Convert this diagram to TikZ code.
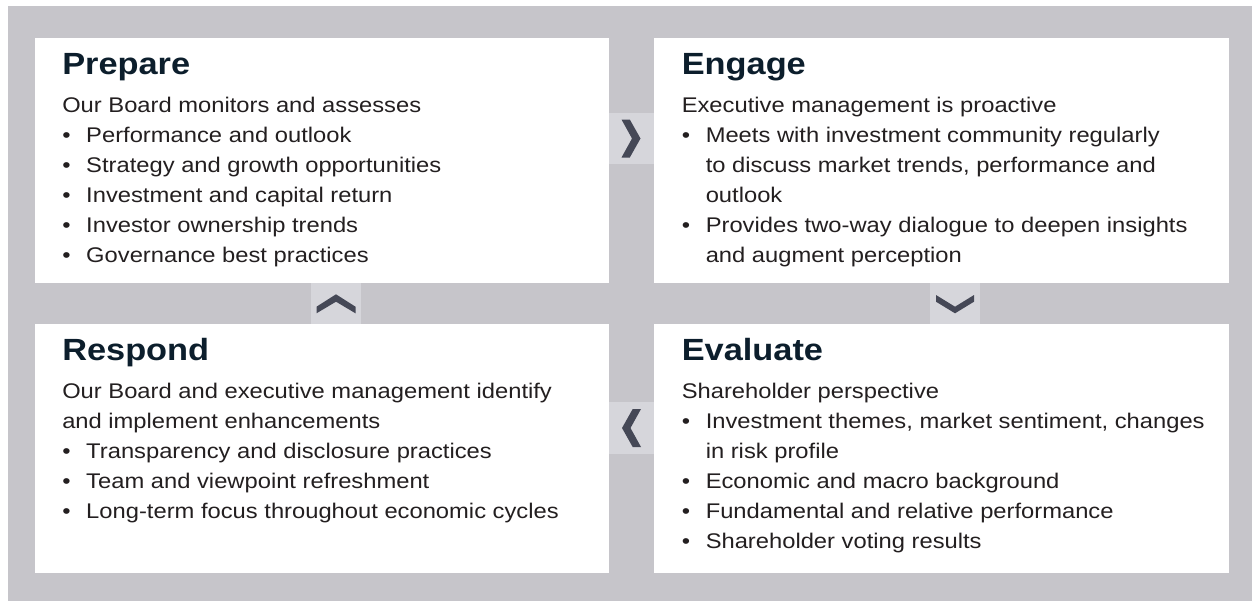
\documentclass[tikz,border=0pt]{standalone}
\usepackage{fontspec}
\setmainfont[FakeStretch=1.12]{Liberation Sans}
\definecolor{bggray}{HTML}{C6C5CA}
\definecolor{arrbox}{HTML}{D6D6DB}
\definecolor{chevcol}{HTML}{454856}
\definecolor{titlecol}{HTML}{0C1E2C}
\definecolor{bodycol}{HTML}{231F20}
\newcommand{\bi}{\makebox[18pt][l]{•}}
\newcommand{\ci}{\hspace*{18pt}}
\newcommand{\bodytext}[1]{\parbox[t]{420pt}{#1}}
\tikzset{
  panel/.style={fill=white, draw=none, inner sep=0pt},
  arrowbox/.style={fill=arrbox, draw=none, inner sep=0pt},
  chev/.style={fill=chevcol, draw=none},
  titletext/.style={anchor=base west, inner sep=0pt, text=titlecol, font=\fontsize{23}{27}\selectfont\bfseries},
  bodynode/.style={anchor=base west, inner sep=0pt, text=bodycol, font=\fontsize{15.9}{22.5}\selectfont}
}
\begin{document}
\begin{tikzpicture}[x=0.75pt,y=-0.75pt]
\useasboundingbox (0,0) rectangle (1252,601);
\fill[white] (0,0) rectangle (1252,601);
\fill[bggray] (8,6) rectangle (1252,601);
% panels
\node[panel, minimum width=430.5pt, minimum height=183.75pt] (prep) at (322,160.5) {};
\node[panel, minimum width=431.25pt, minimum height=183.75pt] (eng) at (941.5,160.5) {};
\node[panel, minimum width=430.5pt, minimum height=186.75pt] (resp) at (322,448.5) {};
\node[panel, minimum width=431.25pt, minimum height=186.75pt] (eval) at (941.5,448.5) {};
% arrow boxes
\node[arrowbox, minimum width=33.75pt, minimum height=38.25pt] (aright) at (631.5,138.5) {};
\node[arrowbox, minimum width=33.75pt, minimum height=39pt] (aleft) at (631.5,428) {};
\node[arrowbox, minimum width=37.5pt, minimum height=30.75pt] (aup) at (336,303.5) {};
\node[arrowbox, minimum width=37.5pt, minimum height=30.75pt] (adown) at (955,303.5) {};
% chevrons
\fill[chev, shift={(aright.center)}] (-10,-19) -- (-1.7,-19) -- (9,0) -- (-1.7,19) -- (-10,19) -- (0.5,0) -- cycle;
\fill[chev, shift={(aleft.center)}] (9.5,-19) -- (1.2,-19) -- (-9.5,0) -- (1.2,19) -- (9.5,19) -- (-1,0) -- cycle;
\fill[chev, shift={(aup.center)}] (-19.5,9.8) -- (-19.5,3.2) -- (0,-9.2) -- (19.5,3.2) -- (19.5,9.8) -- (0,-1.8) -- cycle;
\fill[chev, shift={(adown.center)}] (-19,-8.5) -- (-19,-1.8) -- (0,9.8) -- (19,-1.8) -- (19,-8.5) -- (0,3.2) -- cycle;
% titles
\node[titletext] (tprep) at (62,74) {Prepare};
\node[titletext] (teng) at (681.5,74) {Engage};
\node[titletext] (tresp) at (62,360) {Respond};
\node[titletext] (teval) at (681.5,360) {Evaluate};
% bodies
\node[bodynode] (bprep) at (62,112.5) {\bodytext{Our Board monitors and assesses\\
\bi Performance and outlook\\
\bi Strategy and growth opportunities\\
\bi Investment and capital return\\
\bi Investor ownership trends\\
\bi Governance best practices}};
\node[bodynode] (beng) at (681.5,112.5) {\bodytext{Executive management is proactive\\
\bi Meets with investment community regularly\\
\ci to discuss market trends, performance and\\
\ci outlook\\
\bi Provides two-way dialogue to deepen insights\\
\ci and augment perception}};
\node[bodynode] (bresp) at (62,398.5) {\bodytext{Our Board and executive management identify\\
and implement enhancements\\
\bi Transparency and disclosure practices\\
\bi Team and viewpoint refreshment\\
\bi Long-term focus throughout economic cycles}};
\node[bodynode] (beval) at (681.5,398.5) {\bodytext{Shareholder perspective\\
\bi Investment themes, market sentiment, changes\\
\ci in risk profile\\
\bi Economic and macro background\\
\bi Fundamental and relative performance\\
\bi Shareholder voting results}};
\end{tikzpicture}
\end{document}
